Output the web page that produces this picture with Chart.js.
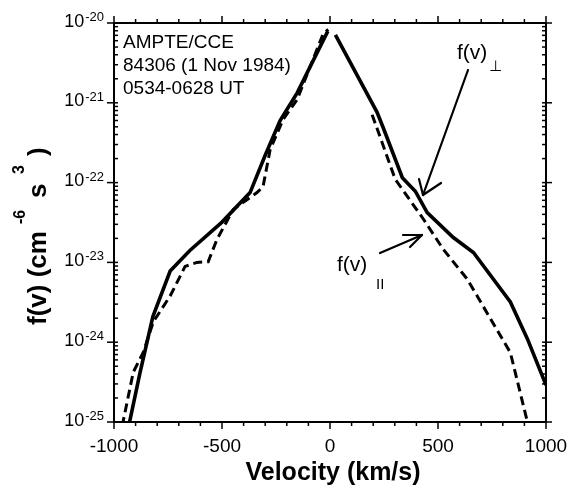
<!DOCTYPE html>
<html>
<head>
<meta charset="utf-8">
<script src="https://cdn.jsdelivr.net/npm/chart.js@4/dist/chart.umd.min.js"></script>
<style>
  body { margin: 0; background: #fff; }
  #wrap { width: 567px; height: 485px; position: relative; }
</style>
</head>
<body>
<div id="wrap"><canvas id="myChart"></canvas></div>
<script>
// perpendicular distribution f(v)_perp (solid), negative and positive branches
const perpV = [-940, -880, -820, -740, -650, -500, -370, -300, -231, -152, -10];
const perpF = [7e-26, 4.1e-25, 2.1e-24, 7.8e-24, 1.4e-23, 3.2e-23, 7.5e-23, 2.2e-22, 6.0e-22, 1.33e-21, 7.9e-21];
const perpV2 = [25, 218, 246, 335, 395, 450, 571, 664, 835, 914, 1000];
const perpF2 = [7.1e-21, 7.6e-22, 4.9e-22, 1.15e-22, 7.8e-23, 4.2e-23, 2.05e-23, 1.33e-23, 3.2e-24, 1.1e-24, 2.9e-25];

// parallel distribution f(v)_par (dashed)
const parV = [-975, -911, -864, -818, -740, -671, -616, -564, -523, -448, -338, -310, -277, -217, -152, -31, -8];
const parF = [6e-26, 4.2e-25, 7.5e-25, 1.8e-24, 3.8e-24, 8.9e-24, 1.0e-23, 1.02e-23, 1.95e-23, 4.6e-23, 7.5e-23, 8.9e-23, 2.6e-22, 6.2e-22, 1.1e-21, 7.4e-21, 8.3e-21];
const parV2 = [195, 302, 432, 525, 635, 835, 914, 925];
const parF2 = [7.1e-22, 1.1e-22, 3.5e-23, 1.45e-23, 6.2e-24, 7.4e-25, 1.0e-25, 6e-26];

const xTicks = [-1000, -500, 0, 500, 1000];
const yExponents = [-20, -21, -22, -23, -24, -25];

const pts = (xs, ys) => xs.map((v, i) => ({x: v, y: ys[i]}));

const axes = {
  id: 'axes',
  afterDraw(chart) {
    const {ctx, chartArea: a, scales: {x, y}} = chart;
    ctx.save();
    ctx.strokeStyle = '#000';
    ctx.fillStyle = '#000';
    const seg = (x1, y1, x2, y2) => { ctx.beginPath(); ctx.moveTo(x1, y1); ctx.lineTo(x2, y2); ctx.stroke(); };

    // frame
    ctx.lineWidth = 2;
    ctx.strokeRect(a.left, a.top, a.right - a.left, a.bottom - a.top);

    // x ticks, outward
    ctx.lineWidth = 1.5;
    for (let v = -1000; v <= 1000; v += 100) {
      const px = x.getPixelForValue(v);
      const len = v % 500 === 0 ? 7 : 4;
      seg(px, a.top, px, a.top - len);
      seg(px, a.bottom, px, a.bottom + len);
    }
    // y ticks: minor inward, major both ways
    for (let e = -25; e <= -20; e++) {
      for (let m = 1; m <= 9; m++) {
        if (e === -20 && m > 1) break;
        const py = y.getPixelForValue(m * Math.pow(10, e));
        if (m === 1) {
          seg(a.left - 7, py, a.left + 4, py);
          seg(a.right - 4, py, a.right + 6, py);
        } else {
          seg(a.left, py, a.left + 4, py);
          seg(a.right - 4, py, a.right, py);
        }
      }
    }

    // x tick labels
    ctx.font = '19px "Liberation Sans", Arial, sans-serif';
    ctx.textAlign = 'center';
    ctx.textBaseline = 'alphabetic';
    xTicks.forEach(v => ctx.fillText(String(v), x.getPixelForValue(v), 452));

    // y tick labels 10^n
    yExponents.forEach(e => {
      const py = y.getPixelForValue(Math.pow(10, e));
      ctx.textAlign = 'right';
      ctx.font = '13px "Liberation Sans", Arial, sans-serif';
      const sup = String(e);
      ctx.fillText(sup, 104, py - 2);
      const w = ctx.measureText(sup).width;
      ctx.font = '18px "Liberation Sans", Arial, sans-serif';
      ctx.fillText('10', 104 - w - 1, py + 3.5);
    });

    // x title
    ctx.textAlign = 'center';
    ctx.font = 'bold 25px "Liberation Sans", Arial, sans-serif';
    ctx.fillText('Velocity (km/s)', 333, 480);

    // y title, rotated, with superscripts
    const rot = (text, font, yStart, xBase) => {
      ctx.save();
      ctx.translate(xBase, yStart);
      ctx.rotate(-Math.PI / 2);
      ctx.textAlign = 'left';
      ctx.font = font;
      ctx.fillText(text, 0, 0);
      ctx.restore();
    };
    const big = 'bold 26px "Liberation Sans", Arial, sans-serif';
    const small = 'bold 16px "Liberation Sans", Arial, sans-serif';
    rot('f(v) (cm', big, 325, 46);
    rot('-6', small, 224, 25);
    rot('s', big, 198, 46);
    rot('3', small, 174, 24);
    rot(')', big, 156, 46);

    // annotation block
    ctx.textAlign = 'left';
    ctx.font = '19px "Liberation Sans", Arial, sans-serif';
    ctx.fillText('AMPTE/CCE', 123, 48);
    ctx.fillText('84306 (1 Nov 1984)', 123, 71);
    ctx.fillText('0534-0628 UT', 123, 94);

    // curve labels
    ctx.font = '21px "Liberation Sans", Arial, sans-serif';
    ctx.fillText('f(v)', 457, 59);
    ctx.fillText('f(v)', 337, 271);
    ctx.font = '15px "DejaVu Sans", sans-serif';
    ctx.fillText('\u22A5', 489, 71);
    ctx.font = '15px "Liberation Sans", Arial, sans-serif';
    ctx.fillText('II', 376, 289);

    // arrows
    ctx.lineWidth = 2.2;
    ctx.lineCap = 'round';
    seg(468, 70, 423, 195);
    seg(419, 179, 423, 195);
    seg(441, 183, 423, 195);
    seg(380, 253, 422, 235);
    seg(403, 235, 422, 235);
    seg(410, 247, 422, 235);
    ctx.restore();
  }
};

const solid = { borderColor: '#000', borderWidth: 3.6, pointRadius: 0, tension: 0 };
const dashed = { borderColor: '#000', borderWidth: 3, borderDash: [9, 5], pointRadius: 0, tension: 0 };

new Chart(document.getElementById('myChart'), {
  type: 'line',
  data: {
    datasets: [
      { label: 'f(v) perp', data: pts(perpV, perpF), ...solid },
      { label: 'f(v) perp 2', data: pts(perpV2, perpF2), ...solid },
      { label: 'f(v) par', data: pts(parV, parF), ...dashed },
      { label: 'f(v) par 2', data: pts(parV2, parF2), ...dashed }
    ]
  },
  options: {
    responsive: true,
    maintainAspectRatio: false,
    animation: false,
    layout: { padding: { left: 114, right: 21, top: 23, bottom: 63 } },
    plugins: { legend: { display: false }, tooltip: { enabled: false } },
    scales: {
      x: { type: 'linear', min: -1000, max: 1000, display: false },
      y: { type: 'logarithmic', min: 1e-25, max: 1e-20, display: false }
    }
  },
  plugins: [axes]
});
</script>
</body>
</html>
